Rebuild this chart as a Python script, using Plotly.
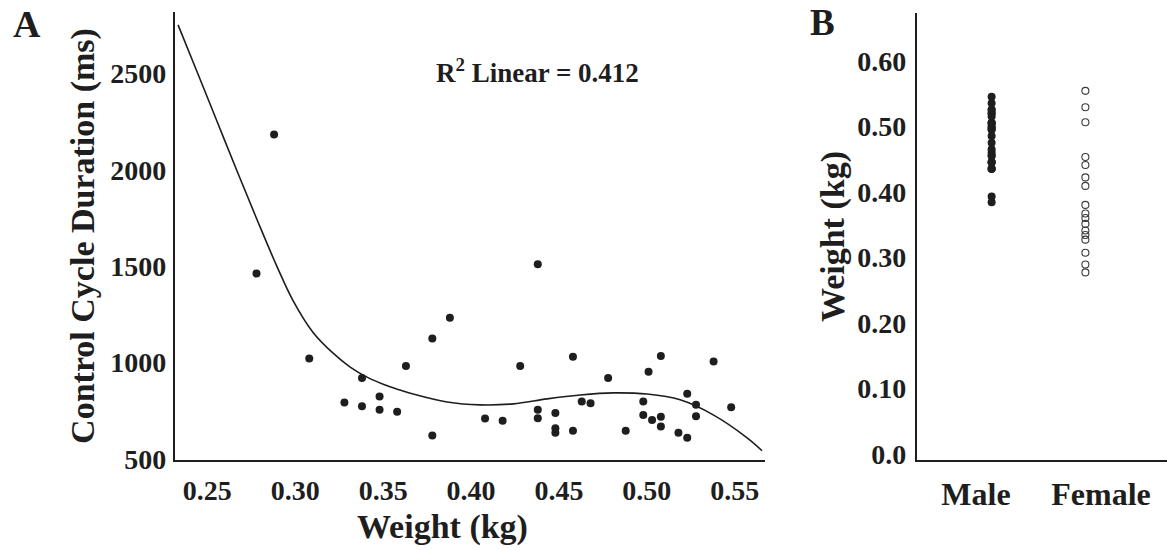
import plotly.graph_objects as go

# ---------------- data ----------------
# Panel A: weight (kg) vs control cycle duration (ms)
weight_a = [0.278, 0.288, 0.308, 0.328, 0.338, 0.338, 0.348, 0.348, 0.358, 0.363,
            0.378, 0.378, 0.388, 0.408, 0.418, 0.428, 0.438, 0.438, 0.438, 0.448,
            0.448, 0.448, 0.458, 0.458, 0.463, 0.468, 0.478, 0.488, 0.498, 0.498,
            0.501, 0.503, 0.508, 0.508, 0.508, 0.518, 0.523, 0.523, 0.528, 0.528,
            0.538, 0.548]
duration_a = [1462, 2184, 1022, 793, 920, 774, 824, 756, 745, 983,
              1125, 622, 1233, 710, 698, 982, 1510, 756, 712, 739,
              660, 636, 1030, 647, 798, 789, 920, 647, 798, 728,
              953, 703, 1034, 719, 669, 636, 839, 610, 782, 722,
              1006, 769]

# fitted curve
curve_w = [0.2333, 0.2441, 0.2555, 0.2669, 0.2783, 0.2896, 0.2987, 0.3101, 0.3215,
           0.3312, 0.3408, 0.3511, 0.3596, 0.3670, 0.3863, 0.4051, 0.4239, 0.4432,
           0.4620, 0.4808, 0.5001, 0.5189, 0.5377, 0.5570, 0.5655]
curve_d = [2752, 2509, 2251, 1993, 1740, 1498, 1322, 1157, 1049,
           977, 925, 884, 858, 837, 796, 781, 786, 812,
           832, 843, 837, 807, 729, 610, 543]

r2_text = "R<sup>2</sup> Linear = 0.412"

xticks_a = [0.25, 0.30, 0.35, 0.40, 0.45, 0.50, 0.55]
xticktext_a = ["0.25", "0.30", "0.35", "0.40", "0.45", "0.50", "0.55"]
yticks_a = [500, 1000, 1500, 2000, 2500]

# Panel B: weight by sex
sex_categories = ["Male", "Female"]
male_weights = [0.384, 0.393, 0.435, 0.435, 0.435, 0.445, 0.445, 0.445, 0.455, 0.455,
                0.460, 0.465, 0.475, 0.485, 0.495, 0.495, 0.498, 0.500, 0.505, 0.505,
                0.505, 0.515, 0.520, 0.520, 0.525, 0.525, 0.535, 0.545]
female_weights = [0.554, 0.529, 0.506, 0.453, 0.441, 0.422, 0.409, 0.380, 0.367,
                  0.360, 0.351, 0.341, 0.334, 0.327, 0.307, 0.289, 0.277]
yticks_b = [0.0, 0.1, 0.2, 0.3, 0.4, 0.5, 0.6]
yticktext_b = ["0.0", "0.10", "0.20", "0.30", "0.40", "0.50", "0.60"]

# ---------------- layout helpers ----------------
W, H = 1167, 550
def px(x):
    return x / W
def py(y):
    return 1 - y / H

FONT = "Liberation Serif"
INK = "#1e1e1e"
tick_font = dict(family=FONT, size=28, color=INK, weight="bold")
title_font = dict(family=FONT, size=34, color=INK, weight="bold")

fig = go.Figure()

# Panel A
fig.add_trace(go.Scatter(
    x=weight_a, y=duration_a, mode="markers",
    marker=dict(size=8, color=INK), xaxis="x", yaxis="y", showlegend=False,
    hoverinfo="x+y"))
fig.add_trace(go.Scatter(
    x=curve_w, y=curve_d, mode="lines",
    line=dict(color=INK, width=1.6, shape="spline", smoothing=1.0),
    xaxis="x", yaxis="y", showlegend=False, hoverinfo="skip"))

# Panel B
fig.add_trace(go.Scatter(
    x=["Female"] * len(female_weights), y=female_weights, mode="markers",
    marker=dict(size=7, symbol="circle-open", color="#3a3a3a", line=dict(width=1.1)),
    xaxis="x2", yaxis="y2", showlegend=False, offsetgroup="f"))
fig.add_trace(go.Scatter(
    x=["Male"] * len(male_weights), y=male_weights, mode="markers",
    marker=dict(size=8, color=INK),
    xaxis="x2", yaxis="y2", showlegend=False, offsetgroup="m"))

common_axis = dict(showgrid=False, zeroline=False, showline=True, linecolor=INK,
                   linewidth=2.2, ticks="", automargin=False)

fig.update_layout(
    template="none",
    width=W, height=H, autosize=False,
    margin=dict(l=0, r=0, t=0, b=0, pad=0),
    paper_bgcolor="white", plot_bgcolor="white",
    scattermode="group", scattergap=0.5,
    xaxis=dict(
        domain=[px(175), px(765)], range=[0.2316, 0.5672],
        tickvals=xticks_a, ticktext=xticktext_a, tickfont=tick_font,
        ticklabelstandoff=4, anchor="y", **common_axis),
    yaxis=dict(
        domain=[py(460), py(12)], range=[495, 2819],
        tickvals=yticks_a, tickfont=tick_font,
        ticklabelstandoff=1, anchor="x",
        title=dict(text="Control Cycle Duration (ms)", font=title_font, standoff=5),
        **common_axis),
    xaxis2=dict(
        domain=[px(917), 1.0], range=[-0.472, 1.528],
        type="category", categoryorder="array", categoryarray=sex_categories,
        tickfont=dict(family=FONT, size=32, color=INK, weight="bold"),
        ticklabelstandoff=4, anchor="y2", **common_axis),
    yaxis2=dict(
        domain=[py(460), py(13)], range=[-0.0092, 0.6728],
        tickvals=yticks_b, ticktext=yticktext_b, tickfont=tick_font,
        ticklabelstandoff=3, anchor="x2",
        title=dict(text="Weight (kg)", font=title_font, standoff=2),
        **common_axis),
    annotations=[
        dict(text=r2_text, xref="paper", yref="paper", x=px(537), y=py(71),
             xanchor="center", yanchor="middle", showarrow=False,
             font=dict(family=FONT, size=27, color=INK, weight="bold")),
        dict(text="Weight (kg)", xref="paper", yref="paper", x=px(442), y=py(527),
             xanchor="center", yanchor="middle", showarrow=False, font=title_font),
        dict(text="A", xref="paper", yref="paper", x=px(27), y=py(23.5),
             xanchor="center", yanchor="middle", showarrow=False,
             font=dict(family=FONT, size=38, color=INK, weight="bold")),
        dict(text="B", xref="paper", yref="paper", x=px(822), y=1.0,
             xanchor="center", yanchor="top", showarrow=False,
             font=dict(family=FONT, size=37, color=INK, weight="bold")),
    ],
)

fig.write_html("out.html",
               config={"displayModeBar": False},
               post_script="document.body.style.margin='0';document.body.style.padding='0';")
